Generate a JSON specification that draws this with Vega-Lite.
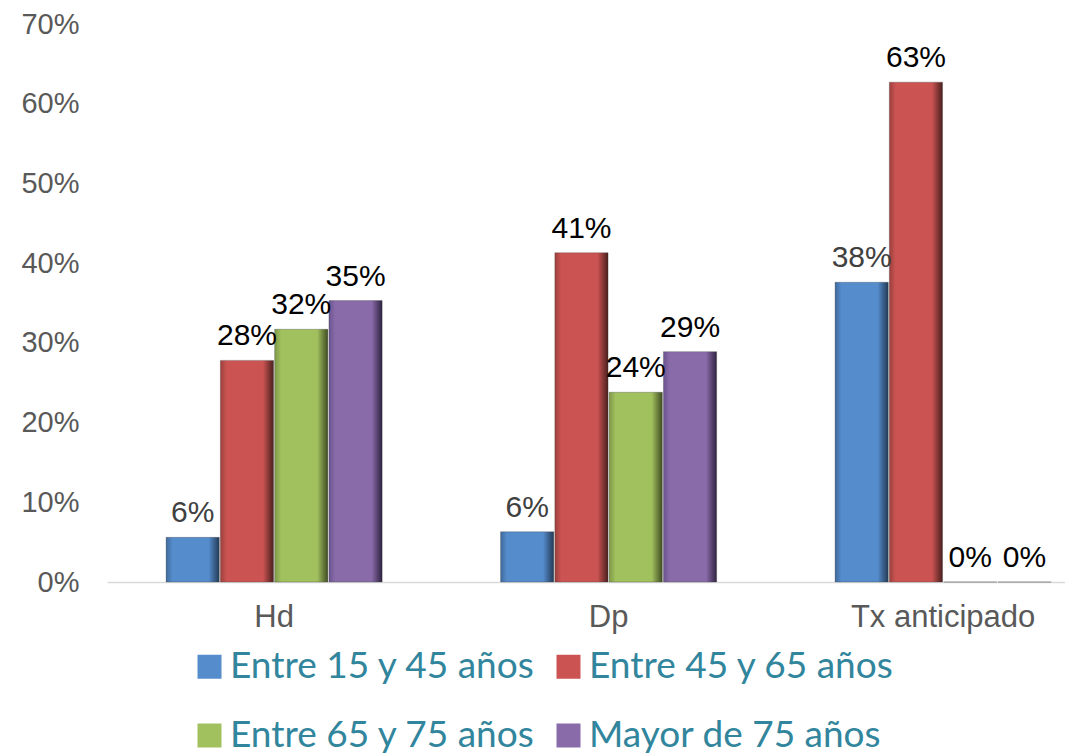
{
  "$schema": "https://vega.github.io/schema/vega-lite/v6.json",
  "autosize": {"type": "none"},
  "padding": {"left": 107, "top": 24, "right": 0, "bottom": 172},
  "width": 958,
  "height": 558,
  "background": "white",
  "config": {"view": {"stroke": null}},
  "data": {"values": [
    {"cat": "Hd", "serie": "Entre 15 y 45 años", "v": 0.056},
    {"cat": "Hd", "serie": "Entre 45 y 65 años", "v": 0.278},
    {"cat": "Hd", "serie": "Entre 65 y 75 años", "v": 0.317},
    {"cat": "Hd", "serie": "Mayor de 75 años", "v": 0.353},
    {"cat": "Dp", "serie": "Entre 15 y 45 años", "v": 0.063},
    {"cat": "Dp", "serie": "Entre 45 y 65 años", "v": 0.413},
    {"cat": "Dp", "serie": "Entre 65 y 75 años", "v": 0.238},
    {"cat": "Dp", "serie": "Mayor de 75 años", "v": 0.289},
    {"cat": "Tx anticipado", "serie": "Entre 15 y 45 años", "v": 0.376},
    {"cat": "Tx anticipado", "serie": "Entre 45 y 65 años", "v": 0.627},
    {"cat": "Tx anticipado", "serie": "Entre 65 y 75 años", "v": 0},
    {"cat": "Tx anticipado", "serie": "Mayor de 75 años", "v": 0}
  ]},
  "encoding": {
    "x": {"field": "cat", "type": "nominal", "sort": ["Hd", "Dp", "Tx anticipado"],
      "scale": {"paddingInner": 0.354, "paddingOuter": 0.109, "align": 0.81},
      "axis": {"title": null, "labelAngle": 0, "ticks": false, "domainColor": "#D9D9D9", "domainWidth": 1.5,
        "labelFont": "Liberation Sans", "labelFontSize": 31, "labelColor": "#595959", "labelPadding": 20, "labelLimit": 0, "labelOverlap": false}},
    "xOffset": {"field": "serie", "type": "nominal", "scale": {"domain": ["Entre 15 y 45 años", "Entre 45 y 65 años", "Entre 65 y 75 años", "Mayor de 75 años"], "paddingInner": 0.02}},
    "y": {"field": "v", "type": "quantitative", "scale": {"domain": [0, 0.7]},
      "axis": {"title": null, "format": ".0%", "values": [0, 0.1, 0.2, 0.3, 0.4, 0.5, 0.6, 0.7], "grid": false, "ticks": false, "domain": false,
        "labelFont": "Liberation Sans", "labelFontSize": 29, "labelColor": "#595959", "labelPadding": 28}},
    "color": {"field": "serie", "type": "nominal",
      "scale": {"domain": ["Entre 15 y 45 años", "Entre 45 y 65 años", "Entre 65 y 75 años", "Mayor de 75 años"],
        "range": ["#558CCB", "#CB5452", "#A1C05E", "#8A6BAA"]},
      "legend": {"title": null, "orient": "none", "legendX": 84, "legendY": 624, "columns": 2, "direction": "horizontal",
        "symbolType": "square", "symbolSize": 576, "symbolStrokeWidth": 0, "labelFont": "Lato", "labelFontSize": 37,
        "labelColor": "#31859C", "labelOffset": 2, "columnPadding": 14, "rowPadding": 31, "labelLimit": 0}}
  },
  "layer": [
    {
      "transform": [{"filter": "datum.serie === 'Entre 15 y 45 años'"}],
      "mark": {"type": "bar", "stroke": "#3a3a3a", "strokeOpacity": 0.3, "strokeWidth": 1,
        "fill": {"gradient": "linear", "x1": 0, "y1": 0, "x2": 1, "y2": 0, "stops": [{"offset": 0, "color": "#3F6A9C"}, {"offset": 0.12, "color": "#558CCB"}, {"offset": 0.8, "color": "#558CCB"}, {"offset": 1, "color": "#233A56"}]}}
    },
    {
      "transform": [{"filter": "datum.serie === 'Entre 45 y 65 años'"}],
      "mark": {"type": "bar", "stroke": "#3a3a3a", "strokeOpacity": 0.3, "strokeWidth": 1,
        "fill": {"gradient": "linear", "x1": 0, "y1": 0, "x2": 1, "y2": 0, "stops": [{"offset": 0, "color": "#9C3F3D"}, {"offset": 0.12, "color": "#CB5452"}, {"offset": 0.8, "color": "#CB5452"}, {"offset": 1, "color": "#4A1F1E"}]}}
    },
    {
      "transform": [{"filter": "datum.serie === 'Entre 65 y 75 años'"}],
      "mark": {"type": "bar", "stroke": "#3a3a3a", "strokeOpacity": 0.3, "strokeWidth": 1,
        "fill": {"gradient": "linear", "x1": 0, "y1": 0, "x2": 1, "y2": 0, "stops": [{"offset": 0, "color": "#7E9848"}, {"offset": 0.12, "color": "#A1C05E"}, {"offset": 0.8, "color": "#A1C05E"}, {"offset": 1, "color": "#3F4C22"}]}}
    },
    {
      "transform": [{"filter": "datum.serie === 'Mayor de 75 años'"}],
      "mark": {"type": "bar", "stroke": "#3a3a3a", "strokeOpacity": 0.3, "strokeWidth": 1,
        "fill": {"gradient": "linear", "x1": 0, "y1": 0, "x2": 1, "y2": 0, "stops": [{"offset": 0, "color": "#6A5590"}, {"offset": 0.12, "color": "#8A6BAA"}, {"offset": 0.8, "color": "#8A6BAA"}, {"offset": 1, "color": "#2E2340"}]}}
    },
    {
      "mark": {"type": "text", "baseline": "alphabetic", "dy": -15, "font": "Liberation Sans", "fontSize": 30},
      "encoding": {
        "text": {"field": "v", "type": "quantitative", "format": ".0%"},
        "color": {"condition": {"test": "datum.serie === 'Entre 15 y 45 años'", "value": "#404040"}, "value": "#000000"}
      }
    }
  ]
}
